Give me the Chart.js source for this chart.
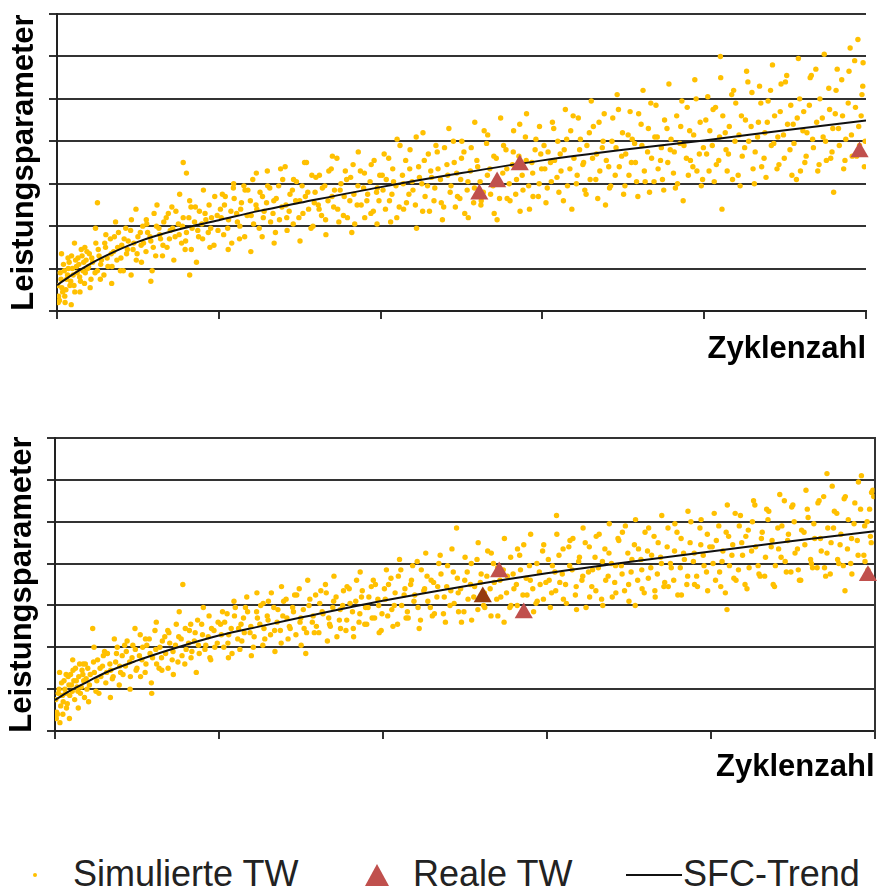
<!DOCTYPE html>
<html lang="de">
<head>
    <meta charset="UTF-8">
    <title>Leistungsparameter über Zyklenzahl</title>
    <style>
        body {
            margin: 0;
            background: #fff;
            font-family: "Liberation Sans", Arial, sans-serif;
        }
        #wrap {
            position: relative;
            width: 885px;
            height: 892px;
            overflow: hidden;
        }
        canvas {
            position: absolute;
            left: 0;
        }
        #chartTop { top: 0; }
        #chartBottom { top: 400px; }
        .lbl {
            position: absolute;
            top: 856px;
            font-size: 36px;
            line-height: 36px;
            color: #222;
            white-space: nowrap;
        }
        .dot {
            position: absolute;
            left: 33px; top: 873px;
            width: 4px; height: 4px;
            border-radius: 2px;
            background: #FFC000;
        }
        .tri {
            position: absolute;
            left: 365px; top: 864px;
            width: 0; height: 0;
            border-left: 12px solid transparent;
            border-right: 12px solid transparent;
            border-bottom: 22px solid #C0504D;
        }
        .line {
            position: absolute;
            left: 626px; top: 874px;
            width: 56px; height: 2px;
            background: #111;
        }
    </style>
</head>
<body>
<div id="wrap">
    <canvas id="chartTop" width="885" height="400"></canvas>
    <canvas id="chartBottom" width="885" height="410"></canvas>

    <span class="dot"></span><span class="lbl" style="left:73px">Simulierte TW</span>
    <span class="tri"></span><span class="lbl" style="left:413px">Reale TW</span>
    <span class="line"></span><span class="lbl" style="left:683px">SFC-Trend</span>
</div>

<script src="https://cdn.jsdelivr.net/npm/chart.js"></script>
<script>
// axes (no tick labels in the original, only marks)
var xMin = 0, xMax = 5, xStep = 1;
var yMin = 0, yMax = 7, yStep = 1;
var xTitle = 'Zyklenzahl';
var yTitle = 'Leistungsparameter';

// SFC trend
var trendX       = [0, 0.1, 0.2, 0.3, 0.5, 0.75, 1, 1.25, 1.5, 2, 2.5, 3, 3.5, 4, 4.5, 5];
var trendTopY    = [0.61, 0.87, 1.1, 1.3, 1.63, 1.92, 2.14, 2.36, 2.55, 2.92, 3.25, 3.55, 3.8, 4.02, 4.26, 4.49];
var trendBottomY = [0.74, 0.98, 1.18, 1.38, 1.68, 2.0, 2.28, 2.5, 2.71, 3.11, 3.46, 3.77, 4.04, 4.29, 4.54, 4.77];

// real TW (triangles)
var realTopX = [2.61, 2.72, 2.86, 4.96];
var realTopY = [2.75, 3.04, 3.44, 3.75];
var realTopColors = ['#C0504D', '#C0504D', '#C0504D', '#C0504D'];
var realBottomX = [2.61, 2.71, 2.86, 4.96];
var realBottomY = [3.2, 3.8, 2.82, 3.71];
var realBottomColors = ['#963C0E', '#C0504D', '#C0504D', '#C0504D'];

// simulated TW, top chart (estimated from the cloud)
var simTop = [
    [0.01,0.35],[0.02,0.9],[0.03,0.55],[0.04,1.1],[0.05,0.2],[0.06,0.75],[0.07,1.0],[0.08,0.6],[0.09,1.3],[0.1,0.85],
    [0.11,0.45],[0.12,1.05],[0.13,1.25],[0.14,0.8],[0.15,1.45],[0.16,0.95],[0.17,0.65],[0.18,1.2],[0.19,1.0],[0.2,1.35],
    [0.21,0.75],[0.22,1.15],[0.24,1.6],[0.25,0.95],[0.25,2.55],[0.26,1.3],[0.27,1.1],[0.29,0.85],[0.3,1.5],[0.31,1.25],
    [0.33,1.7],[0.34,1.05],[0.35,1.4],[0.37,1.2],[0.38,1.85],[0.4,1.55],[0.41,0.95],[0.43,1.35],[0.44,1.65],[0.46,2.15],
    [0.47,1.45],[0.49,1.2],[0.5,1.75],[0.52,1.55],[0.53,2.0],[0.55,1.4],[0.56,1.85],[0.58,1.65],[0.58,0.7],[0.6,2.3],
    [0.61,1.3],[0.63,1.95],[0.64,1.7],[0.66,2.1],[0.68,1.5],[0.7,1.9],[0.71,2.45],[0.73,1.75],[0.75,2.05],[0.77,1.6],
    [0.78,2.2],[0.78,3.5],[0.8,1.85],[0.8,3.25],[0.82,2.6],[0.82,0.85],[0.83,1.45],[0.85,2.1],[0.87,1.9],[0.88,2.35],
    [0.9,1.7],[0.92,2.15],[0.94,2.5],[0.95,1.95],[0.97,1.55],[0.99,2.25],
    [1.01,2.4],[1.03,1.8],[1.04,2.7],[1.06,2.15],[1.08,1.6],[1.09,2.9],[1.11,2.3],[1.13,2.0],[1.14,2.55],[1.16,1.75],
    [1.18,2.85],[1.2,2.25],[1.21,3.1],[1.23,2.5],[1.25,1.95],[1.27,2.7],[1.28,2.35],[1.3,3.3],[1.32,2.1],[1.34,2.6],
    [1.35,1.85],[1.37,2.95],[1.39,2.45],[1.41,3.4],[1.42,2.2],[1.44,2.75],[1.46,2.05],[1.48,3.05],[1.5,2.6],[1.52,2.3],
    [1.53,3.5],[1.55,2.8],[1.57,1.95],[1.59,2.55],[1.6,3.15],[1.62,2.4],[1.64,2.9],[1.66,2.15],[1.68,3.3],[1.7,2.7],
    [1.71,2.45],[1.73,3.6],[1.75,2.85],[1.77,2.25],[1.79,3.1],[1.81,2.6],[1.83,3.45],[1.84,2.05],[1.86,2.95],[1.88,2.5],
    [1.9,3.25],[1.92,2.75],[1.94,2.3],[1.96,3.55],[1.98,2.9],[1.99,2.6],
    [2.01,3.2],[2.03,2.4],[2.05,3.6],[2.07,2.75],[2.08,3.05],[2.1,2.2],[2.12,3.9],[2.14,3.0],[2.16,2.55],[2.18,3.35],
    [2.2,2.85],[2.22,4.1],[2.24,3.15],[2.26,2.35],[2.27,3.55],[2.29,2.95],[2.31,3.3],[2.33,2.6],[2.35,3.75],[2.37,3.1],
    [2.39,2.45],[2.41,3.45],[2.43,2.8],[2.45,4.0],[2.47,3.25],[2.49,2.65],[2.5,3.6],[2.52,2.3],[2.54,3.05],[2.56,3.85],
    [2.58,2.9],[2.6,3.4],[2.62,2.5],[2.64,4.25],[2.66,3.2],[2.68,2.75],[2.7,3.65],[2.72,2.15],[2.74,3.0],[2.76,3.9],
    [2.78,3.35],[2.8,2.6],[2.82,3.75],[2.84,3.1],[2.86,4.4],[2.88,2.85],[2.9,3.55],[2.92,2.4],[2.94,3.25],[2.96,4.05],
    [2.98,3.0],[2.99,3.7],
    [3.01,3.9],[3.03,2.9],[3.05,3.5],[3.07,4.3],[3.09,3.15],[3.11,3.7],[3.13,2.6],[3.15,4.05],[3.17,3.35],[3.19,4.6],
    [3.21,3.0],[3.23,3.8],[3.25,3.45],[3.27,2.75],[3.29,4.2],[3.31,3.6],[3.33,3.1],[3.35,4.45],[3.37,3.85],[3.39,2.5],
    [3.41,3.4],[3.43,4.0],[3.45,3.2],[3.47,4.75],[3.49,3.65],[3.51,2.95],[3.53,4.15],[3.55,3.5],[3.57,3.95],[3.59,2.7],
    [3.61,4.4],[3.63,3.3],[3.65,3.75],[3.67,4.9],[3.69,3.05],[3.71,4.1],[3.73,3.55],[3.75,2.85],[3.77,4.3],[3.79,3.8],
    [3.81,3.25],[3.83,4.6],[3.85,3.95],[3.87,2.6],[3.89,3.6],[3.91,4.25],[3.93,3.4],[3.95,5.0],[3.97,3.7],[3.99,3.1],
    [4.01,4.5],[4.03,3.3],[4.05,3.9],[4.07,4.8],[4.09,3.55],[4.1,6.0],[4.11,2.4],[4.13,4.2],[4.15,3.7],[4.17,5.1],
    [4.19,4.0],[4.21,3.2],[4.23,4.6],[4.25,3.85],[4.27,5.4],[4.29,4.35],[4.31,3.0],[4.33,4.1],[4.35,4.9],[4.37,3.6],
    [4.39,4.45],[4.41,5.2],[4.43,3.95],[4.45,3.35],[4.47,4.7],[4.49,4.15],[4.51,5.55],[4.53,3.8],[4.55,4.4],[4.57,3.1],
    [4.59,5.0],[4.61,4.25],[4.63,3.65],[4.65,4.85],[4.67,4.05],[4.69,5.7],[4.71,3.45],[4.73,4.55],[4.75,4.0],[4.77,5.25],
    [4.79,3.75],[4.8,2.8],[4.81,4.65],[4.83,4.3],[4.85,5.45],[4.87,3.55],[4.89,4.9],[4.91,4.15],[4.93,5.9],[4.95,6.4],
    [4.96,3.9],[4.97,4.6],[4.98,5.3],[4.99,3.4]
];

// second pass over the top cloud (denser core)
var simTopExtra = [
    [0.005,0.6],[0.015,0.25],[0.025,0.75],[0.035,0.45],[0.045,0.95],[0.055,0.5],[0.065,0.85],[0.075,1.15],[0.085,0.7],[0.095,1.0],
    [0.105,0.6],[0.115,1.2],[0.125,0.9],[0.135,1.1],[0.145,0.7],[0.155,1.3],[0.165,1.15],[0.175,0.9],[0.185,1.4],[0.195,1.05],
    [0.215,1.25],[0.235,0.9],[0.255,1.45],[0.275,1.2],[0.295,1.6],[0.315,1.05],[0.335,1.35],[0.355,1.75],[0.375,1.5],[0.395,1.25],
    [0.415,1.7],[0.435,1.45],[0.455,1.9],[0.475,1.6],[0.495,1.35],[0.515,1.85],[0.535,1.6],[0.555,2.05],[0.575,1.75],[0.595,1.5],
    [0.615,2.0],[0.635,1.8],[0.655,1.55],[0.675,2.2],[0.695,1.7],[0.715,1.95],[0.735,2.35],[0.755,1.8],[0.775,2.0],[0.795,1.65],
    [0.815,2.2],[0.835,1.95],[0.855,2.45],[0.875,1.75],[0.895,2.05],[0.915,2.3],[0.935,1.85],[0.955,2.2],[0.975,2.7],[0.995,1.9],
    [1.015,2.2],[1.035,2.5],[1.055,1.95],[1.075,2.35],[1.095,2.65],[1.115,2.1],[1.135,2.4],[1.155,2.95],[1.175,2.25],[1.195,2.6],
    [1.215,2.05],[1.235,2.4],[1.255,2.8],[1.275,2.2],[1.295,2.55],[1.315,2.9],[1.335,2.3],[1.355,2.65],[1.375,2.15],[1.395,3.1],
    [1.415,2.5],[1.435,2.35],[1.455,2.85],[1.475,2.6],[1.495,2.2],[1.515,2.95],[1.535,2.7],[1.555,2.4],[1.575,3.2],[1.595,2.8],
    [1.615,2.5],[1.635,2.25],[1.655,2.95],[1.675,2.6],[1.695,3.35],[1.715,2.85],[1.735,2.4],[1.755,3.0],[1.775,2.7],[1.795,2.2],
    [1.815,3.15],[1.835,2.75],[1.855,2.5],[1.875,3.3],[1.895,2.9],[1.915,2.6],[1.935,3.05],[1.955,2.35],[1.975,2.8],[1.995,3.2],
    [2.015,2.85],[2.035,3.1],[2.055,2.6],[2.075,3.35],[2.095,2.95],[2.115,2.45],[2.135,3.2],[2.155,3.55],[2.175,2.75],[2.195,3.05],
    [2.215,2.5],[2.235,3.4],[2.255,3.0],[2.275,2.7],[2.295,3.7],[2.315,3.15],[2.335,2.9],[2.355,3.35],[2.375,2.55],[2.395,3.85],
    [2.415,3.2],[2.435,2.95],[2.455,3.5],[2.475,2.7],[2.495,3.1],[2.515,3.75],[2.535,2.85],[2.555,3.3],[2.575,2.55],[2.595,3.55],
    [2.615,3.05],[2.635,2.8],[2.655,3.95],[2.675,3.35],[2.695,2.95],[2.715,3.6],[2.735,2.65],[2.755,3.25],[2.775,3.8],[2.795,3.0],
    [2.815,3.45],[2.835,2.75],[2.855,3.65],[2.875,3.2],[2.895,4.1],[2.915,2.95],[2.935,3.5],[2.955,3.8],[2.975,2.7],[2.995,3.35],
    [3.015,3.35],[3.035,3.75],[3.055,3.05],[3.075,3.55],[3.095,4.0],[3.115,3.3],[3.135,3.8],[3.155,2.95],[3.175,4.25],[3.195,3.6],
    [3.215,3.2],[3.235,4.05],[3.255,3.5],[3.275,3.9],[3.295,3.1],[3.315,4.35],[3.335,3.7],[3.355,3.3],[3.375,4.0],[3.395,3.55],
    [3.415,2.9],[3.435,4.55],[3.455,3.85],[3.475,3.4],[3.495,4.2],[3.515,3.7],[3.535,3.2],[3.555,4.05],[3.575,3.5],[3.595,4.65],
    [3.615,3.9],[3.635,3.05],[3.655,4.3],[3.675,3.6],[3.695,4.1],[3.715,3.35],[3.735,3.85],[3.755,4.5],[3.775,3.5],[3.795,4.05],
    [3.815,3.75],[3.835,3.0],[3.855,4.35],[3.875,3.9],[3.895,4.8],[3.915,3.55],[3.935,4.15],[3.955,3.3],[3.975,4.45],[3.995,3.85],
    [4.015,3.7],[4.035,4.25],[4.055,4.75],[4.075,3.45],[4.095,4.1],[4.115,4.6],[4.135,3.8],[4.155,4.35],[4.175,3.1],[4.195,4.9],
    [4.215,4.15],[4.235,3.65],[4.255,4.5],[4.275,4.0],[4.295,5.15],[4.315,3.75],[4.335,4.45],[4.355,3.4],[4.375,4.2],[4.395,4.95],
    [4.415,3.9],[4.435,4.6],[4.455,4.1],[4.475,5.35],[4.495,3.6],[4.515,4.4],[4.535,4.85],[4.555,3.95],[4.575,4.55],[4.595,3.3],
    [4.615,4.7],[4.635,4.2],[4.655,5.5],[4.675,3.85],[4.695,4.45],[4.715,5.0],[4.735,4.1],[4.755,3.55],[4.775,4.75],[4.795,4.3],
    [4.815,5.2],[4.835,3.9],[4.855,4.6],[4.875,4.05],[4.895,5.65],[4.915,3.65],[4.935,4.8],[4.955,4.35],[4.975,5.1],[4.995,4.0]
];

// outer part of the top band
var simTopOuter = [
    [0.008,0.2],[0.028,1.35],[0.048,0.35],[0.068,1.25],[0.088,0.15],[0.108,1.6],[0.142,0.45],[0.172,1.5],[0.205,0.55],[0.238,1.95],
    [0.268,0.75],[0.302,1.8],[0.338,0.65],[0.362,2.1],[0.392,0.95],[0.425,1.95],[0.458,0.85],[0.488,2.4],[0.522,1.15],[0.552,2.15],
    [0.588,0.95],[0.618,2.5],[0.652,1.3],[0.688,2.3],[0.722,1.2],[0.758,2.75],[0.792,1.45],[0.828,2.45],[0.862,1.15],[0.905,2.85],
    [0.945,1.5],
    [1.022,2.75],[1.058,1.45],[1.092,3.0],[1.128,1.7],[1.162,2.85],[1.198,1.4],[1.232,3.25],[1.268,1.75],[1.302,2.95],[1.342,1.6],
    [1.382,3.35],[1.422,1.9],[1.462,3.1],[1.502,1.65],[1.542,3.5],[1.582,2.0],[1.622,3.2],[1.662,1.8],[1.702,3.65],[1.742,2.1],
    [1.782,3.3],[1.822,1.85],[1.862,3.75],[1.902,2.2],[1.942,3.45],[1.978,2.05],
    [2.022,3.7],[2.062,2.1],[2.102,4.05],[2.142,2.4],[2.182,3.8],[2.222,1.95],[2.262,4.2],[2.302,2.35],[2.342,3.9],[2.382,2.15],
    [2.422,4.3],[2.462,2.45],[2.502,4.0],[2.542,2.2],[2.582,4.45],[2.622,2.6],[2.662,4.15],[2.702,2.3],[2.742,4.55],[2.782,2.65],
    [2.822,4.25],[2.862,2.35],[2.902,4.65],[2.942,2.7],[2.982,4.35],
    [3.022,2.55],[3.062,4.45],[3.102,2.8],[3.142,4.75],[3.182,2.4],[3.222,4.55],[3.262,2.85],[3.302,4.95],[3.342,2.65],[3.382,4.65],
    [3.422,2.95],[3.462,5.1],[3.502,2.75],[3.542,4.7],[3.582,3.05],[3.622,5.2],[3.662,2.8],[3.702,4.85],[3.742,3.1],[3.782,5.35],
    [3.822,2.9],[3.862,4.95],[3.902,3.2],[3.942,5.45],[3.982,2.95],
    [4.022,5.05],[4.062,3.05],[4.102,5.5],[4.142,3.3],[4.182,5.2],[4.222,2.95],[4.262,5.65],[4.302,3.35],[4.342,5.3],[4.382,3.15],
    [4.422,5.8],[4.462,3.45],[4.502,5.4],[4.542,3.2],[4.582,5.95],[4.622,3.5],[4.662,5.55],[4.702,3.3],[4.742,6.05],[4.782,3.6],
    [4.822,5.7],[4.862,3.35],[4.902,6.2],[4.942,3.65],[4.982,5.85]
];

// simulated TW, bottom chart
var simBottom = [
    [0.01,0.45],[0.02,0.9],[0.03,0.2],[0.04,1.15],[0.05,0.7],[0.06,1.0],[0.07,0.55],[0.08,1.3],[0.09,0.85],[0.1,1.1],
    [0.11,1.45],[0.12,0.75],[0.13,1.2],[0.14,0.95],[0.15,1.6],[0.16,1.05],[0.17,1.35],[0.18,0.8],[0.19,1.25],[0.2,1.5],
    [0.21,1.1],[0.23,2.45],[0.24,1.4],[0.25,0.95],[0.26,1.7],[0.28,1.3],[0.29,1.55],[0.31,1.15],[0.32,1.85],[0.34,1.45],
    [0.35,1.25],[0.37,1.65],[0.38,2.0],[0.4,1.4],[0.41,1.8],[0.43,1.55],[0.44,2.15],[0.46,1.3],[0.47,1.75],[0.49,1.95],
    [0.5,1.5],[0.52,2.3],[0.53,1.7],[0.55,1.4],[0.56,2.05],[0.58,1.85],[0.59,0.9],[0.61,2.4],[0.62,1.6],[0.64,2.0],
    [0.65,1.75],[0.67,2.25],[0.69,1.5],[0.7,2.1],[0.72,1.9],[0.74,2.55],[0.75,1.65],[0.77,2.2],[0.78,3.5],[0.8,1.95],
    [0.82,2.4],[0.83,1.75],[0.85,2.15],[0.87,2.65],[0.88,1.85],[0.9,2.3],[0.92,2.05],[0.94,2.75],[0.95,1.7],[0.97,2.4],
    [0.99,2.1],
    [1.01,2.55],[1.03,2.0],[1.05,2.8],[1.06,2.3],[1.08,1.85],[1.1,2.95],[1.12,2.45],[1.14,2.15],[1.15,2.7],[1.17,3.2],
    [1.19,2.35],[1.21,2.0],[1.23,2.85],[1.25,2.55],[1.27,3.05],[1.28,2.2],[1.3,2.65],[1.32,3.3],[1.34,2.4],[1.36,2.9],
    [1.38,2.1],[1.39,2.75],[1.41,3.15],[1.43,2.5],[1.45,2.95],[1.47,2.3],[1.49,3.4],[1.5,2.7],[1.52,2.45],[1.53,1.85],
    [1.55,3.0],[1.57,2.6],[1.59,3.25],[1.61,2.35],[1.63,2.85],[1.65,3.5],[1.67,2.7],[1.68,2.5],[1.7,3.1],[1.72,2.25],
    [1.74,2.9],[1.76,3.35],[1.78,2.65],[1.8,3.05],[1.82,2.45],[1.84,3.6],[1.86,2.8],[1.87,3.2],[1.89,2.55],[1.91,2.95],
    [1.93,3.45],[1.95,2.7],[1.97,3.15],[1.99,2.4],
    [2.01,3.4],[2.03,2.75],[2.05,3.65],[2.07,3.0],[2.09,2.55],[2.11,3.85],[2.13,3.25],[2.15,2.85],[2.17,3.5],[2.19,3.1],
    [2.21,4.05],[2.23,2.65],[2.25,3.35],[2.27,3.7],[2.29,2.95],[2.31,3.55],[2.33,3.2],[2.35,4.2],[2.37,2.8],[2.39,3.45],
    [2.41,3.0],[2.43,3.8],[2.45,4.85],[2.46,3.3],[2.48,2.6],[2.5,3.6],[2.52,3.15],[2.54,4.0],[2.56,3.45],[2.58,2.9],
    [2.6,3.75],[2.62,3.3],[2.64,4.3],[2.66,2.75],[2.68,3.55],[2.7,3.9],[2.72,3.2],[2.74,2.6],[2.76,3.7],[2.78,4.15],
    [2.8,3.4],[2.82,3.0],[2.84,3.85],[2.86,4.45],[2.88,3.25],[2.9,3.6],[2.92,2.85],[2.94,4.0],[2.96,3.5],[2.98,3.15],
    [3.01,4.1],[3.03,3.3],[3.05,3.8],[3.06,5.15],[3.08,3.55],[3.1,4.35],[3.12,3.05],[3.14,3.95],[3.16,4.6],[3.18,3.45],
    [3.2,4.15],[3.22,3.7],[3.24,2.95],[3.26,4.4],[3.28,3.85],[3.3,3.35],[3.32,4.7],[3.34,4.05],[3.36,3.6],[3.38,4.25],
    [3.4,3.2],[3.42,3.95],[3.44,4.55],[3.46,3.75],[3.48,4.9],[3.5,3.5],[3.52,4.1],[3.54,3.0],[3.56,4.35],[3.58,3.85],
    [3.6,4.75],[3.62,3.65],[3.64,4.2],[3.66,3.35],[3.68,4.5],[3.7,4.0],[3.72,3.55],[3.74,4.85],[3.76,3.9],[3.78,4.3],
    [3.8,3.25],[3.82,4.6],[3.84,4.1],[3.86,3.7],[3.88,5.0],[3.9,4.25],[3.92,3.45],[3.94,4.45],[3.96,3.95],[3.98,4.7],
    [4.01,4.4],[4.03,3.6],[4.05,4.9],[4.07,4.05],[4.09,3.3],[4.1,2.9],[4.11,4.65],[4.13,4.2],[4.15,5.2],[4.17,3.85],
    [4.19,4.5],[4.21,3.5],[4.23,4.8],[4.25,4.3],[4.27,5.4],[4.29,3.95],[4.31,4.6],[4.33,3.7],[4.35,5.05],[4.37,4.4],
    [4.39,3.45],[4.41,4.85],[4.43,4.15],[4.45,5.5],[4.47,4.55],[4.49,3.8],[4.51,5.0],[4.53,4.35],[4.55,3.6],[4.57,4.75],
    [4.59,5.3],[4.61,4.1],[4.63,4.95],[4.65,3.9],[4.67,4.6],[4.69,5.6],[4.71,4.25],[4.71,6.15],[4.73,3.75],[4.75,4.85],
    [4.77,5.2],[4.79,4.45],[4.81,3.95],[4.82,3.35],[4.84,5.05],[4.86,4.6],[4.88,5.45],[4.9,4.2],[4.92,6.1],[4.94,4.9],
    [4.96,3.85],[4.97,5.3],[4.98,4.5],[4.99,5.75]
];

// second pass over the bottom cloud
var simBottomExtra = [
    [0.005,0.75],[0.015,0.4],[0.025,1.0],[0.035,0.6],[0.045,0.85],[0.055,1.2],[0.065,0.9],[0.075,0.65],[0.085,1.1],[0.095,1.35],
    [0.105,0.95],[0.115,1.2],[0.125,1.5],[0.135,1.05],[0.145,1.3],[0.155,0.9],[0.165,1.45],[0.175,1.2],[0.185,1.6],[0.195,1.0],
    [0.215,1.35],[0.235,1.65],[0.255,1.2],[0.275,1.5],[0.295,1.8],[0.315,1.4],[0.335,1.6],[0.355,1.3],[0.375,1.85],[0.395,1.55],
    [0.415,1.35],[0.435,1.9],[0.455,1.65],[0.475,2.05],[0.495,1.45],[0.515,1.8],[0.535,2.0],[0.555,1.6],[0.575,2.2],[0.595,1.75],
    [0.615,1.95],[0.635,1.5],[0.655,2.15],[0.675,1.85],[0.695,2.35],[0.715,1.7],[0.735,2.05],[0.755,2.25],[0.775,1.8],[0.795,2.45],
    [0.815,2.1],[0.835,1.9],[0.855,2.35],[0.875,2.05],[0.895,2.55],[0.915,1.95],[0.935,2.25],[0.955,2.45],[0.975,2.0],[0.995,2.6],
    [1.015,2.3],[1.035,2.6],[1.055,2.1],[1.075,2.45],[1.095,2.75],[1.115,2.2],[1.135,2.55],[1.155,2.35],[1.175,2.85],[1.195,2.5],
    [1.215,2.25],[1.235,2.7],[1.255,3.0],[1.275,2.45],[1.295,2.75],[1.315,2.3],[1.335,2.95],[1.355,2.6],[1.375,2.4],[1.395,3.1],
    [1.415,2.7],[1.435,2.45],[1.455,2.85],[1.475,3.25],[1.495,2.6],[1.515,2.9],[1.535,2.35],[1.555,3.15],[1.575,2.75],[1.595,2.5],
    [1.615,3.05],[1.635,2.8],[1.655,3.3],[1.675,2.55],[1.695,2.95],[1.715,3.2],[1.735,2.65],[1.755,3.0],[1.775,2.4],[1.795,3.4],
    [1.815,2.85],[1.835,3.1],[1.855,2.6],[1.875,3.35],[1.895,2.95],[1.915,3.2],[1.935,2.7],[1.955,3.5],[1.975,3.0],[1.995,2.8],
    [2.015,3.15],[2.035,3.5],[2.055,2.9],[2.075,3.3],[2.095,3.7],[2.115,3.0],[2.135,3.4],[2.155,2.7],[2.175,3.6],[2.195,3.25],
    [2.215,2.95],[2.235,3.85],[2.255,3.4],[2.275,3.1],[2.295,3.6],[2.315,2.8],[2.335,3.45],[2.355,3.75],[2.375,3.2],[2.395,3.95],
    [2.415,3.35],[2.435,3.05],[2.455,3.65],[2.475,3.4],[2.495,2.85],[2.515,3.8],[2.535,3.5],[2.555,3.2],[2.575,4.1],[2.595,3.55],
    [2.615,3.0],[2.635,3.7],[2.655,3.4],[2.675,4.0],[2.695,3.15],[2.715,3.6],[2.735,3.85],[2.755,3.3],[2.775,2.95],[2.795,3.75],
    [2.815,3.5],[2.835,4.2],[2.855,3.25],[2.875,3.65],[2.895,3.95],[2.915,3.4],[2.935,3.05],[2.955,3.8],[2.975,4.3],[2.995,3.55],
    [3.015,3.6],[3.035,3.95],[3.055,3.35],[3.075,4.2],[3.095,3.75],[3.115,3.5],[3.135,4.4],[3.155,3.85],[3.175,3.25],[3.195,4.05],
    [3.215,3.6],[3.235,4.5],[3.255,3.8],[3.275,3.45],[3.295,4.15],[3.315,3.9],[3.335,3.15],[3.355,4.35],[3.375,3.7],[3.395,4.0],
    [3.415,3.55],[3.435,4.6],[3.455,3.95],[3.475,3.35],[3.495,4.25],[3.515,3.8],[3.535,4.45],[3.555,3.6],[3.575,4.1],[3.595,3.3],
    [3.615,4.3],[3.635,3.9],[3.655,4.65],[3.675,3.75],[3.695,4.15],[3.715,3.45],[3.735,4.4],[3.755,4.0],[3.775,3.6],[3.795,4.75],
    [3.815,3.9],[3.835,4.25],[3.855,3.5],[3.875,4.5],[3.895,4.05],[3.915,3.7],[3.935,4.85],[3.955,4.2],[3.975,3.8],[3.995,4.4],
    [4.015,4.0],[4.035,4.55],[4.055,3.8],[4.075,4.3],[4.095,4.75],[4.115,3.95],[4.135,4.45],[4.155,3.6],[4.175,4.9],[4.195,4.2],
    [4.215,4.65],[4.235,3.9],[4.255,5.0],[4.275,4.4],[4.295,3.75],[4.315,4.75],[4.335,4.15],[4.355,5.25],[4.375,4.55],[4.395,3.95],
    [4.415,4.35],[4.435,4.9],[4.455,4.05],[4.475,4.7],[4.495,5.35],[4.515,4.25],[4.535,3.85],[4.555,4.8],[4.575,4.45],[4.595,5.1],
    [4.615,4.0],[4.635,4.6],[4.655,5.45],[4.675,4.3],[4.695,3.9],[4.715,4.85],[4.735,4.5],[4.755,5.25],[4.775,4.1],[4.795,4.7],
    [4.815,5.55],[4.835,4.35],[4.855,4.0],[4.875,4.95],[4.895,4.55],[4.915,5.3],[4.935,4.2],[4.955,5.0],[4.975,4.65],[4.995,5.6]
];

// outer part of the bottom band
var simBottomOuter = [
    [0.008,0.3],[0.028,1.4],[0.048,0.4],[0.068,1.35],[0.088,0.3],[0.108,1.7],[0.142,0.55],[0.172,1.6],[0.205,0.7],[0.238,2.0],
    [0.268,0.9],[0.302,1.9],[0.338,0.8],[0.362,2.2],[0.392,1.1],[0.425,2.05],[0.458,1.0],[0.488,2.45],[0.522,1.3],[0.552,2.2],
    [0.588,1.15],[0.618,2.6],[0.652,1.45],[0.688,2.4],[0.722,1.35],[0.758,2.85],[0.792,1.6],[0.828,2.55],[0.862,1.4],[0.905,2.95],
    [0.945,1.75],
    [1.022,2.85],[1.058,1.75],[1.092,3.1],[1.128,1.95],[1.162,2.95],[1.198,1.8],[1.232,3.3],[1.268,2.05],[1.302,3.1],[1.342,1.9],
    [1.382,3.45],[1.422,2.2],[1.462,3.25],[1.502,2.05],[1.542,3.6],[1.582,2.35],[1.622,3.35],[1.662,2.15],[1.702,3.7],[1.742,2.45],
    [1.782,3.45],[1.822,2.25],[1.862,3.8],[1.902,2.55],[1.942,3.6],[1.978,2.35],
    [2.022,3.85],[2.062,2.5],[2.102,4.1],[2.142,2.7],[2.182,3.95],[2.222,2.45],[2.262,4.25],[2.302,2.75],[2.342,4.0],[2.382,2.6],
    [2.422,4.35],[2.462,2.85],[2.502,4.15],[2.542,2.65],[2.582,4.5],[2.622,2.95],[2.662,4.25],[2.702,2.75],[2.742,4.6],[2.782,3.0],
    [2.822,4.35],[2.862,2.8],[2.902,4.7],[2.942,3.1],[2.982,4.45],
    [3.022,2.95],[3.062,4.7],[3.102,3.15],[3.142,4.55],[3.182,2.9],[3.222,4.85],[3.262,3.2],[3.302,4.65],[3.342,3.0],[3.382,4.95],
    [3.422,3.3],[3.462,4.75],[3.502,3.1],[3.542,5.05],[3.582,3.4],[3.622,4.85],[3.662,3.2],[3.702,5.15],[3.742,3.45],[3.782,4.95],
    [3.822,3.25],[3.862,5.25],[3.902,3.5],[3.942,5.05],[3.982,3.35],
    [4.022,5.2],[4.062,3.45],[4.102,5.4],[4.142,3.65],[4.182,5.15],[4.222,3.4],[4.262,5.5],[4.302,3.7],[4.342,5.3],[4.382,3.5],
    [4.422,5.65],[4.462,3.8],[4.502,5.4],[4.542,3.6],[4.582,5.75],[4.622,3.9],[4.662,5.5],[4.702,3.7],[4.742,5.85],[4.782,4.0],
    [4.822,5.6],[4.862,3.75],[4.902,5.95],[4.942,4.05],[4.982,5.7]
];

function pairs(xs, ys) {
    return xs.map(function(x, i) { return { x: x, y: ys[i] }; });
}

var titleFont = { family: '"Liberation Sans", Arial, sans-serif', size: 31, weight: 'bold' };

function buildChart(id, cfg) {
    var scales = {
        x: {
            type: 'linear', min: xMin, max: xMax,
            ticks: { stepSize: xStep, display: false },
            grid: { drawOnChartArea: false, drawTicks: true, tickLength: 8, color: '#333', lineWidth: 2 },
            border: { display: true, color: '#222', width: 2 },
            title: { display: true, text: xTitle, align: 'end', color: '#000', font: titleFont,
                     padding: { top: 0, bottom: cfg.xTitlePad } },
            afterFit: function(scale) { scale.height = cfg.xHeight; }
        },
        y: {
            type: 'linear', min: yMin, max: yMax,
            ticks: { stepSize: yStep, display: false },
            grid: { drawTicks: true, tickLength: 8, color: '#333', lineWidth: 2 },
            border: { display: true, color: '#222', width: 2 },
            title: { display: true, text: yTitle, color: '#000', font: titleFont, padding: 0 },
            afterFit: function(scale) { scale.width = 51; }
        }
    };
    if (cfg.rightBorder) {
        scales.y2 = {
            type: 'linear', position: 'right', min: yMin, max: yMax,
            ticks: { display: false },
            grid: { display: false },
            border: { display: true, color: '#333', width: 2 },
            afterFit: function(scale) { scale.width = 0; }
        };
    }

    return new Chart(document.getElementById(id), {
        type: 'scatter',
        data: {
            datasets: [
                {
                    label: 'Reale TW',
                    data: pairs(cfg.realX, cfg.realY),
                    pointStyle: 'triangle',
                    pointRadius: 10.5,
                    backgroundColor: cfg.realColors,
                    borderWidth: 0,
                    clip: false,
                    order: 0
                },
                {
                    label: 'SFC-Trend',
                    data: pairs(trendX, cfg.trendY),
                    showLine: true,
                    borderColor: '#111',
                    borderWidth: 2,
                    pointRadius: 0,
                    cubicInterpolationMode: 'monotone',
                    order: 1
                },
                {
                    label: 'Simulierte TW',
                    data: cfg.sim,
                    pointRadius: 2.7,
                    backgroundColor: '#FFC000',
                    borderWidth: 0,
                    order: 2
                }
            ]
        },
        options: {
            responsive: false,
            animation: false,
            devicePixelRatio: 1,
            layout: { padding: cfg.padding },
            plugins: { legend: { display: false }, tooltip: { enabled: false } },
            events: [],
            scales: scales
        }
    });
}

buildChart('chartTop', {
    sim: simTop.concat(simTopExtra, simTopOuter), trendY: trendTopY,
    realX: realTopX, realY: realTopY, realColors: realTopColors,
    padding: { left: 6, top: 14, right: 19, bottom: 0 },
    xHeight: 89, xTitlePad: 32,
    rightBorder: false
});

buildChart('chartBottom', {
    sim: simBottom.concat(simBottomExtra, simBottomOuter), trendY: trendBottomY,
    realX: realBottomX, realY: realBottomY, realColors: realBottomColors,
    padding: { left: 4, top: 38, right: 5, bottom: 0 },
    xHeight: 79, xTitlePad: 24,
    rightBorder: true
});
</script>
</body>
</html>
